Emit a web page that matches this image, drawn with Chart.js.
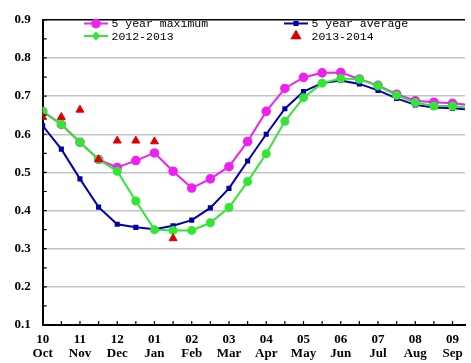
<!DOCTYPE html>
<html>
<head>
<meta charset="utf-8">
<script src="https://cdn.jsdelivr.net/npm/chart.js@4.4.0/dist/chart.umd.min.js"></script>
<style>
  html, body { margin: 0; padding: 0; background: #fff; }
  #wrap { width: 471px; height: 363px; position: relative; }
</style>
</head>
<body>
<div id="wrap"><canvas id="chart"></canvas></div>
<script>
// one step = half a month, 0 = start of October
const monthCodes = ['10', '11', '12', '01', '02', '03', '04', '05', '06', '07', '08', '09'];
const monthNames = ['Oct', 'Nov', 'Dec', 'Jan', 'Feb', 'Mar', 'Apr', 'May', 'Jun', 'Jul', 'Aug', 'Sep'];
const halfMonths = [0, 1, 2, 3, 4, 5, 6, 7, 8, 9, 10, 11, 12, 13, 14, 15, 16, 17, 18, 19, 20, 21, 22, 23];

const max5 = [0.660, 0.626, 0.579, 0.534, 0.513, 0.531, 0.551, 0.503, 0.459, 0.483, 0.515, 0.581,
              0.660, 0.720, 0.749, 0.761, 0.762, 0.745, 0.728, 0.705, 0.688, 0.684, 0.681, 0.676];
const avg5 = [0.622, 0.561, 0.483, 0.409, 0.364, 0.356, 0.351, 0.360, 0.375, 0.407, 0.458, 0.530,
              0.600, 0.667, 0.712, 0.734, 0.741, 0.732, 0.715, 0.694, 0.677, 0.670, 0.668, 0.664];
const season1213 = [0.660, 0.626, 0.579, 0.534, 0.503, 0.425, 0.350, 0.348, 0.348, 0.368, 0.408, 0.476,
                    0.549, 0.634, 0.696, 0.734, 0.746, 0.744, 0.727, 0.702, 0.683, 0.674, 0.674, 0.668];
const season1314 = [0.645, 0.645, 0.664, 0.534, 0.583, 0.583, 0.581, 0.327];

const yMin = 0.1, yMax = 0.9, yStep = 0.1;
const xMax = 22.67;   // plot is cut off just after mid-September

const serif = "'Liberation Serif', 'Times New Roman', serif";

// legend sits inside the plot, two columns
const legendSlots = [
  { x: 84, y: 23.5 },
  { x: 284, y: 23.5 },
  { x: 84, y: 36 },
  { x: 284, y: 36 }
];

const insideLegend = {
  id: 'insideLegend',
  afterDatasetsDraw(chart) {
    const ctx = chart.ctx;
    ctx.save();
    ctx.font = "11.5px 'Liberation Mono', monospace";
    ctx.textBaseline = 'middle';
    ctx.fillStyle = '#000';
    chart.data.datasets.forEach((ds, i) => {
      const slot = legendSlots[i];
      const mid = slot.x + 12;
      if (ds.showLine !== false) {
        ctx.strokeStyle = ds.borderColor;
        ctx.lineWidth = ds.borderWidth;
        ctx.beginPath();
        ctx.moveTo(slot.x, slot.y);
        ctx.lineTo(slot.x + 24, slot.y);
        ctx.stroke();
      }
      ctx.fillStyle = ds.pointBackgroundColor;
      ctx.strokeStyle = ds.pointBorderColor;
      Chart.helpers.drawPoint(ctx, {
        pointStyle: ds.legendStyle || ds.pointStyle,
        radius: ds.legendRadius || ds.pointRadius,
        rotation: 0,
        borderWidth: 1
      }, mid, slot.y);
      ctx.fillStyle = '#000';
      ctx.fillText(ds.label, slot.x + 27.5, slot.y + 0.5);
    });
    ctx.restore();
  }
};

// small ticks pointing into the plot
const innerTicks = {
  id: 'innerTicks',
  afterDatasetsDraw(chart) {
    const { ctx, chartArea, scales } = chart;
    ctx.save();
    ctx.strokeStyle = '#000';
    ctx.lineWidth = 1.2;
    ctx.beginPath();
    scales.x.ticks.forEach(t => {
      const px = scales.x.getPixelForValue(t.value);
      ctx.moveTo(px, chartArea.bottom);
      ctx.lineTo(px, chartArea.bottom - 4);
    });
    scales.y.ticks.forEach((t, i) => {
      const vals = [t.value];
      if (i < scales.y.ticks.length - 1) vals.push(t.value + yStep / 2);
      vals.forEach(v => {
        const py = scales.y.getPixelForValue(v);
        ctx.moveTo(chartArea.left, py);
        ctx.lineTo(chartArea.left + 4, py);
      });
    });
    ctx.stroke();
    ctx.restore();
  }
};

new Chart(document.getElementById('chart'), {
  type: 'line',
  data: {
    labels: halfMonths,
    datasets: [
      {
        label: '5 year maximum',
        data: max5,
        borderColor: '#ee22ee',
        backgroundColor: '#ee22ee',
        pointBackgroundColor: '#ee22ee',
        pointBorderColor: '#ee22ee',
        borderWidth: 2,
        pointStyle: 'circle',
        pointRadius: 3.8,
        order: 3
      },
      {
        label: '5 year average',
        data: avg5,
        borderColor: '#0000aa',
        backgroundColor: '#0000aa',
        pointBackgroundColor: '#0000aa',
        pointBorderColor: '#0000aa',
        borderWidth: 2,
        pointStyle: 'rect',
        pointRadius: 2.2,
        order: 2
      },
      {
        label: '2012-2013',
        data: season1213,
        borderColor: '#33e633',
        backgroundColor: '#33e633',
        pointBackgroundColor: '#33e633',
        pointBorderColor: '#33e633',
        borderWidth: 2,
        pointStyle: 'circle',
        pointRadius: 3.5,
        legendStyle: 'rectRot',
        legendRadius: 3,
        order: 1
      },
      {
        label: '2013-2014',
        data: season1314,
        showLine: false,
        borderColor: '#dd0000',
        backgroundColor: '#dd0000',
        pointBackgroundColor: '#dd0000',
        pointBorderColor: '#dd0000',
        pointStyle: 'triangle',
        pointRadius: 4.6,
        order: 0
      }
    ]
  },
  options: {
    responsive: true,
    maintainAspectRatio: false,
    animation: false,
    layout: { padding: { top: 11.7, right: 0, bottom: 0, left: 0 } },
    elements: { line: { tension: 0 } },
    scales: {
      x: {
        type: 'linear',
        min: 0,
        max: xMax,
        afterBuildTicks: axis => {
          axis.ticks = halfMonths.filter(v => v <= xMax).map(v => ({ value: v }));
        },
        afterFit: axis => { axis.height = 38; },
        grid: { drawOnChartArea: false, drawTicks: false },
        border: { color: '#000', width: 2 },
        ticks: {
          autoSkip: false,
          maxRotation: 0,
          padding: 7,
          color: '#000',
          font: { family: serif, size: 13, weight: 'bold', lineHeight: 1.1 },
          callback: v => (v % 2 === 0 ? [monthCodes[v / 2], monthNames[v / 2]] : '')
        }
      },
      y: {
        min: yMin,
        max: yMax,
        afterFit: axis => { axis.width = 42.7; },
        grid: {
          drawTicks: false,
          lineWidth: 1.5,
          color: ctx => (ctx.tick && Math.abs(ctx.tick.value - yMax) < 1e-6 ? '#000' : '#c4c4c4')
        },
        border: { color: '#000', width: 2 },
        ticks: {
          stepSize: yStep,
          padding: 12,
          color: '#000',
          font: { family: serif, size: 13, weight: 'bold' },
          callback: v => v.toFixed(1)
        }
      }
    },
    plugins: {
      legend: { display: false },
      tooltip: { enabled: false }
    }
  },
  plugins: [innerTicks, insideLegend]
});
</script>
</body>
</html>
